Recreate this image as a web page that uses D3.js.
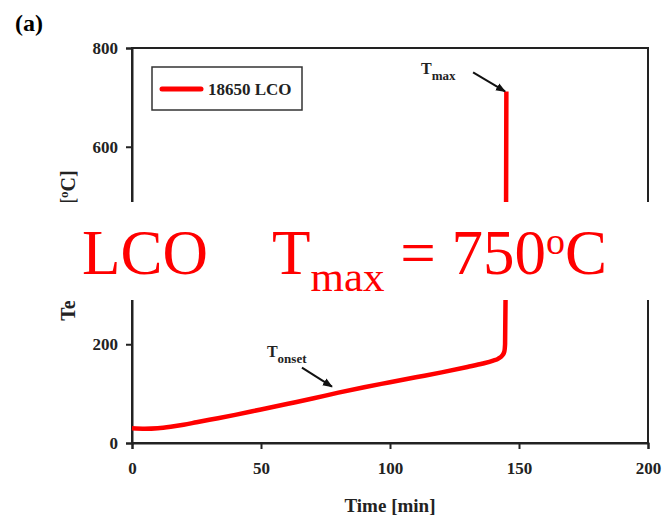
<!DOCTYPE html>
<html>
<head>
<meta charset="utf-8">
<script src="https://cdn.jsdelivr.net/npm/d3@7"></script>
<style>
  body { margin: 0; background: #fff; }
  svg { display: block; }
  text { font-family: "Liberation Serif", "Times New Roman", serif; }
</style>
</head>
<body>
<div id="chart"></div>
<script>
// curve (min, degC)
const time = [0, 5, 10, 15, 20, 25, 30, 40, 50, 60, 70, 80, 90, 100, 110, 120, 130, 136, 140, 142, 143.5, 144.3, 144.6, 144.8, 145, 145.1]
const temperature = [30, 29, 30, 33, 37, 42, 47, 57, 68, 79, 90, 102, 113, 123, 133, 143, 154, 161, 167, 171, 177, 185, 200, 300, 500, 712]

const xTicks = [0, 50, 100, 150, 200]
const yTicks = [0, 200, 600, 800]
const seriesName = "18650 LCO"
const tOnset = [77.5, 114]   // arrow tip, just above the curve
const tMax = [144.6, 712]

const margin = {top: 48, bottom: 72, left: 132, right: 16},
      nwidth = 664, nheight = 515,
      width = nwidth - margin.left - margin.right,
      height = nheight - margin.top - margin.bottom

const x = d3.scaleLinear().domain([0, 200]).range([0, width])
const y = d3.scaleLinear().domain([0, 800]).range([height, 0])

const svg = d3.select("#chart").append("svg")
  .attr("width", nwidth).attr("height", nheight)

svg.append("defs").append("marker")
    .attr("id", "head")
    .attr("viewBox", "0 0 10 10")
    .attr("refX", 9).attr("refY", 5)
    .attr("markerWidth", 5).attr("markerHeight", 5)
    .attr("markerUnits", "strokeWidth")
    .attr("orient", "auto")
  .append("path").attr("d", "M0,1 L10,5 L0,9 Z").attr("fill", "#111")

svg.append("text").text("(a)")
  .attr("x", 15).attr("y", 31)
  .style("font-size", "24px").style("font-weight", "bold")

const g = svg.append("g").attr("transform", `translate(${margin.left},${margin.top})`)

// frame
g.append("rect").attr("width", width).attr("height", height)
  .attr("fill", "none").attr("stroke", "#222").attr("stroke-width", 2)

const xAxis = g.append("g").attr("transform", `translate(0,${height})`)
  .call(d3.axisBottom(x).tickValues(xTicks).tickSize(6).tickPadding(13))
const yAxis = g.append("g")
  .call(d3.axisLeft(y).tickValues(yTicks).tickSize(6).tickPadding(8))

;[xAxis, yAxis].forEach(a => {
  a.select(".domain").attr("stroke", "#222").attr("stroke-width", 2)
  a.selectAll(".tick line").attr("stroke", "#222").attr("stroke-width", 2)
  a.selectAll(".tick text")
    .style("font-family", "Liberation Serif, serif")
    .style("font-size", "17px").style("font-weight", "bold").attr("fill", "#222")
})

svg.append("text")
  .attr("x", margin.left + width / 2).attr("y", 512)
  .style("text-anchor", "middle").style("font-size", "19px").style("font-weight", "bold")
  .attr("fill", "#222").text("Time [min]")

const ylab = svg.append("text")
  .attr("transform", `translate(75,${margin.top + height / 2}) rotate(-90)`)
  .style("text-anchor", "middle").style("font-size", "20px").style("font-weight", "bold")
  .attr("fill", "#222")
ylab.append("tspan").text("Temperature [")
ylab.append("tspan").text("o").style("font-size", "13px").attr("dy", -7)
ylab.append("tspan").text("C]").attr("dy", 7)

// curve
const line = d3.line().x(d => x(d[0])).y(d => y(d[1])).curve(d3.curveMonotoneX)
g.append("path")
  .datum(d3.zip(time, temperature))
  .attr("d", line)
  .attr("fill", "none").attr("stroke", "#ff0000").attr("stroke-width", 4.5)
  .attr("stroke-linejoin", "round")

// legend
const legend = g.append("g").attr("transform", "translate(20,19)")
legend.append("rect").attr("width", 150).attr("height", 43)
  .attr("fill", "#fff").attr("stroke", "#333").attr("stroke-width", 1.5)
legend.append("line").attr("x1", 10).attr("x2", 49).attr("y1", 22).attr("y2", 22)
  .attr("stroke", "#ff0000").attr("stroke-width", 5).attr("stroke-linecap", "round")
legend.append("text").text(seriesName).attr("x", 56).attr("y", 28)
  .style("font-size", "17px").style("font-weight", "bold").attr("fill", "#222")

// annotations
function label(px, py, sub) {
  const t = g.append("text").attr("x", px).attr("y", py)
    .style("font-weight", "bold").attr("fill", "#222")
  t.append("tspan").text("T").style("font-size", "16px")
  t.append("tspan").text(sub).style("font-size", "13px").attr("dy", 6)
}
function arrow(tip, dx, dy) {
  g.append("line")
    .attr("x1", x(tip[0]) + dx).attr("y1", y(tip[1]) + dy)
    .attr("x2", x(tip[0])).attr("y2", y(tip[1]))
    .attr("stroke", "#111").attr("stroke-width", 2).attr("marker-end", "url(#head)")
}
arrow(tMax, -32, -19)
label(x(tMax[0]) - 84, y(tMax[1]) - 17, "max")
arrow(tOnset, -30, -19)
label(x(tOnset[0]) - 65, y(tOnset[1]) - 30, "onset")

// big overlay caption
svg.append("rect").attr("x", 53).attr("y", 202).attr("width", nwidth - 53).attr("height", 98)
  .attr("fill", "#fff")
const cap = svg.append("text").attr("y", 274).attr("fill", "#ff0000").style("font-size", "63px")
cap.append("tspan").attr("x", 82).text("LCO")
cap.append("tspan").attr("x", 272).text("T")
cap.append("tspan").text("max").style("font-size", "43px").attr("dy", 17)
cap.append("tspan").text(" = 750").attr("dy", -17)
cap.append("tspan").text("o").style("font-size", "38px").attr("dy", -20)
cap.append("tspan").text("C").attr("dy", 20)
</script>
</body>
</html>
